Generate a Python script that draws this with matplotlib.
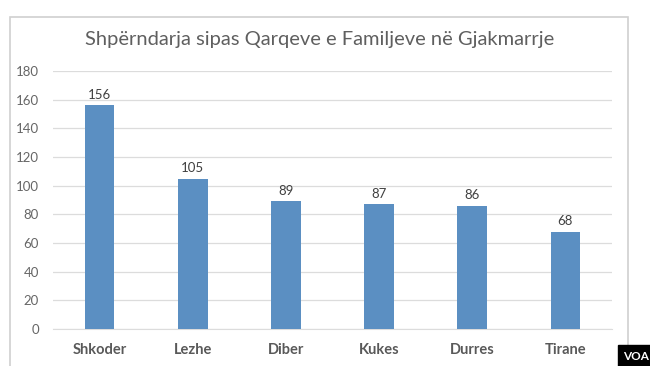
import matplotlib.pyplot as plt
from matplotlib import patches
import numpy as np

regions = ["Shkoder", "Lezhe", "Diber", "Kukes", "Durres", "Tirane"]
families = [156, 105, 89, 87, 86, 68]
yticks = [0, 20, 40, 60, 80, 100, 120, 140, 160, 180]

plt.rcParams["font.family"] = ["Lato", "DejaVu Sans"]

fig = plt.figure(figsize=(6.5, 3.66), dpi=100)
fig.patch.set_facecolor("white")

## Outer chart frame
frame = patches.Rectangle((10 / 650, -0.02), 618 / 650, (366 - 17) / 366 + 0.02,
                          transform=fig.transFigure, fill=False,
                          edgecolor="#d0d0d0", linewidth=1.2)
fig.patches.append(frame)

ax = fig.add_axes([53 / 650, 37 / 366, 559 / 650, 258 / 366])
x = np.arange(len(regions))
bars = ax.bar(x, families, width=0.32, color="#5b8fc2", zorder=3)

ax.set_xlim(-0.5, len(regions) - 0.5)
ax.set_ylim(0, 180)
ax.set_yticks(yticks)
ax.set_xticks(x)
ax.set_xticklabels(regions, fontsize=10.5, fontweight="bold", color="#595959")
ax.tick_params(axis="y", labelsize=9.5, labelcolor="#666666", length=0, pad=10)
ax.tick_params(axis="x", length=0, pad=10)
ax.grid(axis="y", color="#dcdcdc", linewidth=0.9, zorder=0)
for side in ["top", "right", "left"]:
    ax.spines[side].set_visible(False)
ax.spines["bottom"].set_color("#dcdcdc")

for b, v in zip(bars, families):
    ax.text(b.get_x() + b.get_width() / 2, v + 3, str(v), ha="center", va="bottom",
            fontsize=9.5, color="#404040")

fig.text(320 / 650, 1 - 40 / 366, "Shpërndarja sipas Qarqeve e Familjeve në Gjakmarrje",
         ha="center", va="center", fontsize=14.5, color="#5f5f5f")

## VOA badge
fig.text(636 / 650, 1 - 356 / 366, "VOA", ha="center", va="center", fontsize=8.5,
         fontweight="bold", color="white",
         bbox=dict(boxstyle="square,pad=0.45", facecolor="black", edgecolor="black"))

fig.savefig("out.png", dpi=100)
